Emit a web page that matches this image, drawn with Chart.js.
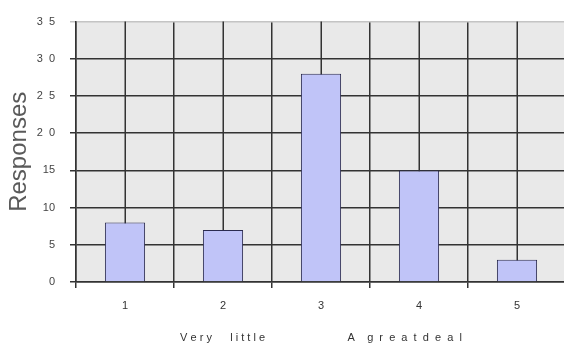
<!DOCTYPE html>
<html>
<head>
<meta charset="utf-8">
<script src="https://cdn.jsdelivr.net/npm/chart.js@4/dist/chart.umd.min.js"></script>
<style>
  html, body { margin: 0; padding: 0; background: #ffffff; overflow: hidden; }
  canvas { display: block; }
</style>
</head>
<body>
<canvas id="chart" width="568" height="349"></canvas>
<script>
// Response counts on a 1–5 scale
const categories = ['1', '2', '3', '4', '5'];
const responses = [8, 7, 28, 15, 3];

// Value axis ticks and their printed labels
const yTickValues = [0, 5, 10, 15, 20, 25, 30, 35];
const yTickLabels = ['0', '5', '10', '15', '2  0', '2  5', '3  0', '3  5'];

const yAxisTitle = 'Responses';
const scaleCaption = 'V e r y      l i t t l e' + ' '.repeat(27) + 'A    g  r  e  a  t  d  e  a  l';

const FONT = '"Liberation Sans", Arial, sans-serif';
const GRID = '#333333';
const GRID_TOP = '#c4c4c4';

// Grey plot background
const plotBackground = {
  id: 'plotBackground',
  beforeDraw(chart) {
    const { ctx, chartArea: a } = chart;
    ctx.save();
    ctx.fillStyle = '#e9e9e9';
    ctx.fillRect(a.left, a.top, a.right - a.left, a.bottom - a.top);
    ctx.restore();
  }
};

// Extra vertical grid lines through each category centre
const centreLines = {
  id: 'centreLines',
  beforeDatasetsDraw(chart) {
    const { ctx, chartArea: a } = chart;
    const x = chart.scales.x;
    ctx.save();
    ctx.strokeStyle = GRID;
    ctx.lineWidth = 1.5;
    categories.forEach((c, i) => {
      const px = Math.round(x.getPixelForValue(i)) + 0.25;
      ctx.beginPath();
      ctx.moveTo(px, a.top);
      ctx.lineTo(px, a.bottom);
      ctx.stroke();
    });
    ctx.restore();
  }
};

new Chart(document.getElementById('chart'), {
  type: 'bar',
  data: {
    labels: categories,
    datasets: [{
      data: responses,
      backgroundColor: '#c0c4f8',
      borderColor: '#2b2b50',
      borderWidth: 1,
      borderSkipped: 'bottom',
      categoryPercentage: 1,
      barPercentage: 0.41
    }]
  },
  options: {
    responsive: false,
    animation: false,
    devicePixelRatio: 1,
    layout: { padding: { top: 18, right: 2, left: 0, bottom: 0 } },
    plugins: {
      legend: { display: false },
      tooltip: { enabled: false }
    },
    scales: {
      x: {
        type: 'category',
        offset: true,
        grid: {
          offset: true,
          color: GRID,
          lineWidth: 1.5,
          drawTicks: true,
          tickLength: 6
        },
        border: { display: true, color: GRID, width: 1.5 },
        ticks: {
          color: '#333333',
          padding: 11,
          font: { family: FONT, size: 11 },
          maxRotation: 0
        },
        title: {
          display: true,
          text: scaleCaption,
          color: '#333333',
          font: { family: FONT, size: 11, lineHeight: 1 },
          padding: { top: 0, bottom: 6 }
        },
        afterFit(scale) { scale.height = 67; }
      },
      y: {
        min: 0,
        max: 35,
        afterBuildTicks(scale) {
          scale.ticks = yTickValues.map(v => ({ value: v }));
        },
        grid: {
          color: ctx => (ctx.tick && ctx.tick.value === 35 ? GRID_TOP : GRID),
          lineWidth: 1.5,
          drawTicks: true,
          tickLength: 6
        },
        border: { display: true, color: GRID, width: 1.5 },
        ticks: {
          color: '#444444',
          padding: 15,
          font: { family: FONT, size: 11 },
          callback: (value) => {
            const i = yTickValues.indexOf(value);
            return i >= 0 ? yTickLabels[i] : '';
          }
        },
        title: {
          display: true,
          text: yAxisTitle,
          color: '#5a5a5a',
          font: { family: FONT, size: 24, lineHeight: 1 },
          padding: { top: 7, bottom: 0 }
        },
        afterFit(scale) { scale.width = 76; }
      }
    }
  },
  plugins: [plotBackground, centreLines]
});
</script>
</body>
</html>
